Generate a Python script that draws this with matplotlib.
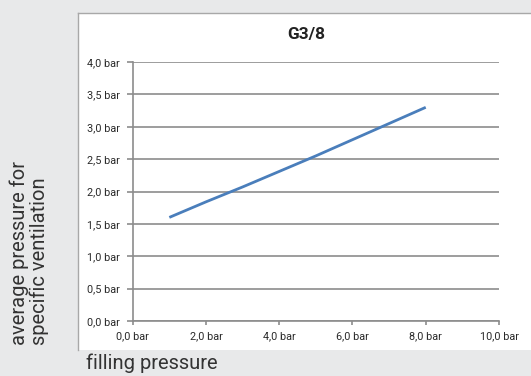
import matplotlib
matplotlib.use("Agg")
import matplotlib.pyplot as plt
from matplotlib.patches import Rectangle
from matplotlib.lines import Line2D

filling = [1, 2, 3, 4, 5, 6, 7, 8]
avg_pressure = [1.60, 1.84, 2.07, 2.31, 2.55, 2.80, 3.05, 3.30]
x_ticks = [0, 2, 4, 6, 8, 10]
y_ticks = [0.0, 0.5, 1.0, 1.5, 2.0, 2.5, 3.0, 3.5, 4.0]
title = "G3/8"
xlabel = "filling pressure"
ylabel = "average pressure for\nspecific ventilation"

FONT = ["Roboto", "DejaVu Sans"]

W, H = 531, 376
fig = plt.figure(figsize=(W / 100, H / 100), dpi=100)
fig.patch.set_facecolor("#e8e9ea")

# white panel
px0, py0 = 78 / W, 1 - 350 / H
fig.patches.append(Rectangle((px0, py0), 1 - px0 + 0.01, (350 - 13) / H,
                             transform=fig.transFigure, facecolor="white",
                             edgecolor="none", zorder=-5))
fig.lines.append(Line2D([px0, px0], [py0, 1 - 13 / H], transform=fig.transFigure,
                        color="#a8a8a8", lw=1.0, zorder=-4))
fig.lines.append(Line2D([px0, 1], [1 - 13 / H, 1 - 13 / H], transform=fig.transFigure,
                        color="#a8a8a8", lw=1.0, zorder=-4))

ax = fig.add_axes([132.7 / W, 1 - 321 / H, (499 - 132.7) / W, (321 - 62) / H])
ax.set_zorder(2)
ax.set_facecolor("none")
ax.plot(filling, avg_pressure, color="#4a7ebb", lw=2.0, solid_capstyle="butt", zorder=3)
ax.set_xlim(0, 10)
ax.set_ylim(0, 4)
ax.set_xticks(x_ticks)
ax.set_yticks(y_ticks)
ax.set_xticklabels([f"{v:.1f} bar".replace(".", ",") for v in x_ticks])
ax.set_yticklabels([f"{v:.1f} bar".replace(".", ",") for v in y_ticks])
ax.grid(axis="y", color="#8c8c8c", lw=1.2)
ax.set_axisbelow(True)
for s in ["top", "right"]:
    ax.spines[s].set_visible(False)
for s in ["left", "bottom"]:
    ax.spines[s].set_color("#8c8c8c")
    ax.spines[s].set_linewidth(1.2)
ax.tick_params(axis="y", length=4, width=1.2, color="#8c8c8c", pad=5,
               labelsize=7.8, labelcolor="#2a2a2a")
ax.tick_params(axis="x", length=3, width=1.2, color="#8c8c8c", pad=4,
               labelsize=7.8, labelcolor="#2a2a2a")
for lab in ax.get_xticklabels() + ax.get_yticklabels():
    lab.set_family(FONT)

fig.text(306 / W, 1 - 34 / H, title, ha="center", va="center",
         fontsize=12.5, fontweight="bold", color="#222222", family=FONT)
fig.text(86 / W, 1 - 363 / H, xlabel, ha="left", va="center",
         fontsize=14.5, color="#333333", family=FONT)
fig.text(29 / W, 1 - 345 / H, ylabel, ha="center", va="bottom", rotation=90,
         multialignment="left", fontsize=14.5, color="#333333", linespacing=1.05,
         family=FONT)

fig.savefig("out.png", dpi=100, facecolor=fig.get_facecolor())
